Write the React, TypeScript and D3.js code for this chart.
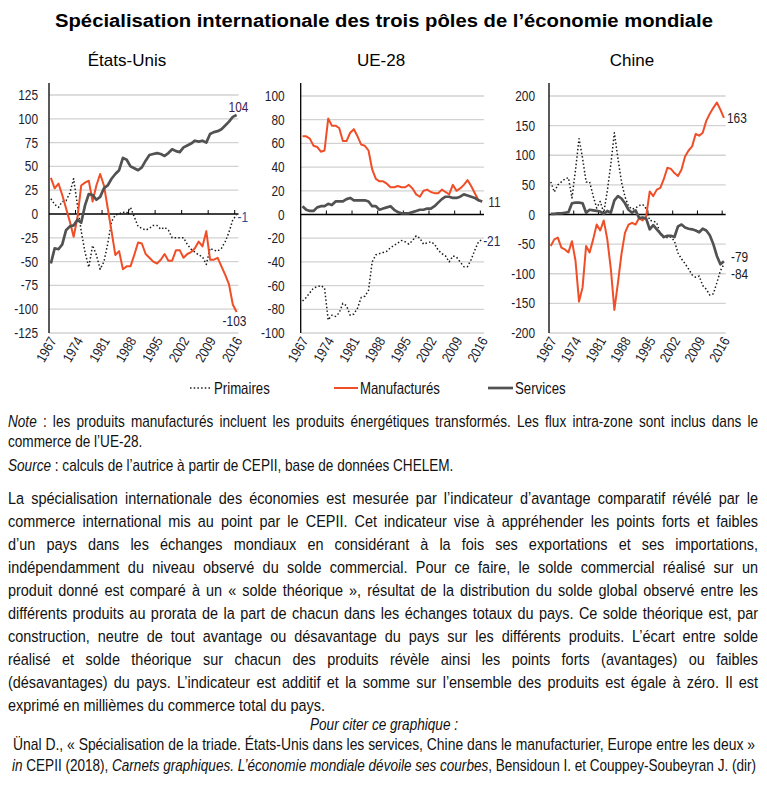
import React, { useLayoutEffect, useRef } from "react";
import * as d3 from "d3";

const years = [1967,1968,1969,1970,1971,1972,1973,1974,1975,1976,1977,1978,1979,1980,1981,1982,1983,1984,1985,1986,1987,1988,1989,1990,1991,1992,1993,1994,1995,1996,1997,1998,1999,2000,2001,2002,2003,2004,2005,2006,2007,2008,2009,2010,2011,2012,2013,2014,2015,2016];
const tickYears = [1967, 1974, 1981, 1988, 1995, 2002, 2009, 2016];
const seriesNames = ["Primaires", "Manufacturés", "Services"];
const panelTitles = ["États-Unis", "UE-28", "Chine"];

const usTicks = [125, 100, 75, 50, 25, 0, -25, -50, -75, -100, -125];
const euTicks = [100, 80, 60, 40, 20, 0, -20, -40, -60, -80, -100];
const cnTicks = [200, 150, 100, 50, 0, -50, -100, -150, -200];

const usPrimaires = [16,10,7,13,14,22,37,9,-18,-40,-56,-33,-43,-58,-50,-31,-8,-1,0,2,1,7,-3,-13,-15,-17,-15,-12,-12,-16,-14,-17,-25,-25,-25,-25,-32,-37,-40,-43,-45,-53,-36,-38,-39,-36,-29,-19,-6,-1];
const usManuf = [38,27,32,20,6,-8,-24,-4,30,33,35,13,30,42,30,6,-18,-43,-39,-58,-55,-55,-43,-30,-31,-42,-46,-50,-52,-48,-42,-49,-49,-38,-38,-46,-42,-40,-36,-29,-34,-18,-48,-48,-46,-55,-64,-74,-95,-103];
const usServices = [-52,-36,-37,-32,-17,-13,-12,-6,-9,9,21,20,15,18,27,30,37,42,46,59,57,50,48,46,49,56,62,63,64,63,61,64,68,66,65,70,72,74,77,76,77,75,84,86,87,89,93,97,102,104];

const euPrimaires = [-73,-70,-66,-62,-61,-60,-62,-89,-85,-86,-83,-75,-77,-85,-84,-79,-70,-69,-64,-40,-34,-33,-32,-31,-28,-26,-24,-22,-23,-25,-22,-18,-20,-25,-24,-23,-25,-30,-33,-35,-40,-35,-36,-40,-44,-44,-38,-30,-23,-21];
const euManuf = [66,66,64,58,57,53,54,81,75,75,73,62,62,69,72,66,59,58,54,38,30,28,28,26,23,23,24,23,23,25,22,17,15,20,21,19,18,18,21,19,17,25,20,22,25,29,24,18,12,11];
const euServices = [7,4,3,3,6,7,7,9,8,11,11,11,13,14,12,12,12,12,11,7,7,4,5,6,7,4,2,1,1,1,2,3,4,4,5,5,7,10,13,15,15,14,14,15,17,16,15,14,12,11];

const cnPrimaires = [55,38,50,55,60,62,28,75,128,95,55,55,31,11,22,3,40,85,138,95,55,30,14,9,11,15,17,10,-10,-11,-14,-33,-39,-39,-38,-45,-65,-75,-83,-92,-102,-106,-104,-120,-126,-136,-134,-115,-95,-84];
const cnManuf = [-53,-42,-39,-56,-59,-64,-45,-78,-147,-123,-53,-64,-42,-17,-27,-10,-42,-92,-161,-116,-67,-31,-17,-14,-17,-6,-10,-3,39,31,42,45,60,79,77,70,65,76,98,108,115,136,133,138,158,170,180,189,177,163];
const cnServices = [1,1,2,2,3,4,19,20,20,19,3,8,7,6,5,1,6,3,24,31,27,19,8,3,7,-6,-5,-7,-25,-18,-25,-32,-38,-36,-36,-38,-20,-17,-22,-24,-25,-27,-30,-24,-27,-35,-50,-70,-84,-79];

const paragraph = [
  "La spécialisation internationale des économies est mesurée par l’indicateur d’avantage comparatif révélé par le",
  "commerce international mis au point par le CEPII. Cet indicateur vise à appréhender les points forts et faibles",
  "d’un pays dans les échanges mondiaux en considérant à la fois ses exportations et ses importations,",
  "indépendamment du niveau observé du solde commercial. Pour ce faire, le solde commercial réalisé sur un",
  "produit donné est comparé à un « solde théorique », résultat de la distribution du solde global observé entre les",
  "différents produits au prorata de la part de chacun dans les échanges totaux du pays. Ce solde théorique est, par",
  "construction, neutre de tout avantage ou désavantage du pays sur les différents produits. L’écart entre solde",
  "réalisé et solde théorique sur chacun des produits révèle ainsi les points forts (avantages) ou faibles",
  "(désavantages) du pays. L’indicateur est additif et la somme sur l’ensemble des produits est égale à zéro. Il est",
  "exprimé en millièmes du commerce total du pays.",
];

const FF = "'Liberation Sans', Arial, Helvetica, sans-serif";
const SX = 0.8;
const BODY_SX = 0.85;
const RED = "#f04e27";
const GREY = "#525252";
const DOT = "#1a1a1a";

type NTProps = {
  x: number; y: number; size: number; anchor?: string; sx?: number; width?: number;
  justify?: boolean; italic?: boolean; bold?: boolean; fill?: string; children: React.ReactNode;
};
function NText({ x, y, size, anchor = "start", sx = SX, width, justify, italic, bold, fill = "#111", children }: NTProps) {
  const ref = useRef<SVGTextElement>(null);
  useLayoutEffect(() => {
    const el = ref.current;
    if (!el || !width || !justify) return;
    el.style.wordSpacing = "0px";
    const natural = el.getComputedTextLength();
    const txt = el.textContent || "";
    const spaces = (txt.match(/ /g) || []).length;
    const target = width / sx;
    if (spaces > 0 && target > natural) {
      el.style.wordSpacing = `${(target - natural) / spaces}px`;
    } else if (target < natural) {
      el.setAttribute("textLength", String(target));
      el.setAttribute("lengthAdjust", "spacingAndGlyphs");
    }
  }, [width, justify, sx]);
  const extra: any = {};
  if (width && !justify) {
    extra.textLength = width / sx;
    extra.lengthAdjust = "spacingAndGlyphs";
  }
  return (
    <text
      ref={ref}
      transform={`translate(${x},${y}) scale(${sx},1)`}
      fontFamily={FF}
      fontSize={size}
      textAnchor={anchor as any}
      fontStyle={italic ? "italic" : "normal"}
      fontWeight={bold ? "bold" : "normal"}
      fill={fill}
      {...extra}
    >
      {children}
    </text>
  );
}

type LabelSpec = { series: number; dx: number; dy: number; color: string };
type PanelSpec = {
  title: string; titleX: number; x0: number; x1: number; yTop: number;
  ticks: number[]; data: number[][]; gap: number; labels: LabelSpec[];
};

const Y_BOT = 333;
const AXIS_TOP = 83;

function Panel({ p }: { p: PanelSpec }) {
  const x = d3.scaleBand<number>().domain(years).range([p.x0, p.x1]).padding(0);
  const bw = x.bandwidth();
  const cx = (yr: number) => (x(yr) as number) + bw / 2;
  const y = d3.scaleLinear().domain([d3.min(p.ticks) as number, d3.max(p.ticks) as number]).range([Y_BOT, p.yTop]);
  const line = d3.line<number>().x((_, i) => cx(years[i])).y((v) => y(v));
  const y0 = y(0);
  const styles = [
    { stroke: DOT, width: 1.5, dash: "1.5 2.2" },
    { stroke: RED, width: 2, dash: undefined },
    { stroke: GREY, width: 2.7, dash: undefined },
  ];
  const boundaries = [7, 14, 21, 28, 35, 42, 49].map((k) => x(years[k]) as number);
  return (
    <g>
      {p.ticks.filter((t) => t !== 0).map((t) => (
        <line key={"g" + t} x1={p.x0} x2={p.x1} y1={y(t)} y2={y(t)} stroke="#d2d2d2" strokeWidth={1.3} />
      ))}
      {p.ticks.map((t) => (
        <NText key={"t" + t} x={p.x0 - p.gap} y={y(t) + 5} size={14.5} anchor="end" sx={0.82} fill="#1c1c2c">
          {String(t)}
        </NText>
      ))}
      <line x1={p.x0} x2={p.x0} y1={AXIS_TOP} y2={Y_BOT} stroke="#000" strokeWidth={1.3} />
      <line x1={p.x0} x2={p.x1} y1={y0} y2={y0} stroke="#000" strokeWidth={1.3} />
      {boundaries.map((bx, i) => (
        <line key={"b" + i} x1={bx} x2={bx} y1={y0 - 4} y2={y0} stroke="#000" strokeWidth={1} />
      ))}
      {tickYears.map((yr) => (
        <text
          key={"x" + yr}
          transform={`translate(${cx(yr) + 2},${338}) rotate(-60) scale(0.85,1)`}
          fontFamily={FF}
          fontSize={14}
          textAnchor="end"
          dy="0.35em"
          fill="#1c1c2c"
        >
          {String(yr)}
        </text>
      ))}
      {p.data.map((d, si) => (
        <path
          key={"s" + si}
          d={line(d) as string}
          fill="none"
          stroke={styles[si].stroke}
          strokeWidth={styles[si].width}
          strokeDasharray={styles[si].dash}
          strokeLinejoin="round"
        />
      ))}
      {p.labels.map((l, i) => {
        const d = p.data[l.series];
        const v = d[d.length - 1];
        return (
          <NText key={"l" + i} x={cx(years[years.length - 1]) + l.dx} y={y(v) + l.dy + 5} size={14.5} sx={0.82} fill={l.color}>
            {String(v)}
          </NText>
        );
      })}
      <text x={p.titleX} y={66} fontFamily={FF} fontSize={17} textAnchor="middle" fill="#000">
        {p.title}
      </text>
    </g>
  );
}

const panels: PanelSpec[] = [
  {
    title: panelTitles[0], titleX: 127, x0: 49, x1: 238.5, yTop: 95, ticks: usTicks, gap: 11,
    data: [usPrimaires, usManuf, usServices],
    labels: [
      { series: 2, dx: -8, dy: -8, color: "#3d1d4d" },
      { series: 0, dx: 1, dy: 2, color: "#1f4f9a" },
      { series: 1, dx: -14, dy: 9, color: "#1a1a3a" },
    ],
  },
  {
    title: panelTitles[1], titleX: 381, x0: 300.7, x1: 484, yTop: 96, ticks: euTicks, gap: 16,
    data: [euPrimaires, euManuf, euServices],
    labels: [
      { series: 1, dx: 6, dy: 1, color: "#4a1a1a" },
      { series: 0, dx: 1, dy: 2, color: "#1a2a5a" },
    ],
  },
  {
    title: panelTitles[2], titleX: 632, x0: 549, x1: 725.7, yTop: 96, ticks: cnTicks, gap: 14,
    data: [cnPrimaires, cnManuf, cnServices],
    labels: [
      { series: 1, dx: 3, dy: 0, color: "#1a1a2a" },
      { series: 2, dx: 7, dy: -4, color: "#1a1a1a" },
      { series: 0, dx: 7, dy: 10, color: "#1a1a1a" },
    ],
  },
];

function Legend() {
  const yL = 388;
  return (
    <g>
      <line x1={190} x2={212} y1={yL} y2={yL} stroke={DOT} strokeWidth={1.5} strokeDasharray="1.5 2.2" />
      <NText x={214} y={yL + 5.5} size={16.5} sx={0.8}>{seriesNames[0]}</NText>
      <line x1={334} x2={358} y1={yL} y2={yL} stroke={RED} strokeWidth={2} />
      <NText x={360} y={yL + 5.5} size={16.5} sx={0.8}>{seriesNames[1]}</NText>
      <line x1={488} x2={513} y1={yL} y2={yL} stroke={GREY} strokeWidth={2.7} />
      <NText x={515} y={yL + 5.5} size={16.5} sx={0.8}>{seriesNames[2]}</NText>
    </g>
  );
}

export default function App() {
  return (
    <svg
      width={767}
      height={807}
      viewBox="0 0 767 807"
      style={{ position: "absolute", left: 0, top: 0, background: "#fff" }}
    >
      <rect x={0} y={0} width={767} height={807} fill="#fff" />
      <NText x={384} y={27} size={19} bold anchor="middle" sx={0.92} width={658} fill="#000">
        Spécialisation internationale des trois pôles de l’économie mondiale
      </NText>
      {panels.map((p, i) => (
        <Panel key={i} p={p} />
      ))}
      <Legend />
      <NText x={8} y={427} size={16} sx={BODY_SX} width={750} justify>
        <tspan fontStyle="italic">Note</tspan>
        {" : les produits manufacturés incluent les produits énergétiques transformés. Les flux intra-zone sont inclus dans le"}
      </NText>
      <NText x={8} y={447} size={16} sx={BODY_SX}>commerce de l’UE-28.</NText>
      <NText x={8} y={471} size={16} sx={BODY_SX}>
        <tspan fontStyle="italic">Source</tspan>
        {" : calculs de l’autrice à partir de CEPII, base de données CHELEM."}
      </NText>
      {paragraph.map((ln, i) => (
        <NText key={"p" + i} x={8} y={504 + i * 23} size={17} sx={BODY_SX} width={i < paragraph.length - 1 ? 750 : undefined} justify>
          {ln}
        </NText>
      ))}
      <NText x={384} y={730} size={16} sx={BODY_SX} anchor="middle" italic>
        Pour citer ce graphique :
      </NText>
      <NText x={384} y={750} size={16} sx={BODY_SX} anchor="middle" width={742}>
        Ünal D., « Spécialisation de la triade. États-Unis dans les services, Chine dans le manufacturier, Europe entre les deux »
      </NText>
      <NText x={384} y={771} size={16} sx={BODY_SX} anchor="middle" width={744}>
        <tspan fontStyle="italic">in</tspan>
        {" CEPII (2018), "}
        <tspan fontStyle="italic">Carnets graphiques. L’économie mondiale dévoile ses courbes</tspan>
        {", Bensidoun I. et Couppey-Soubeyran J. (dir)"}
      </NText>
    </svg>
  );
}
